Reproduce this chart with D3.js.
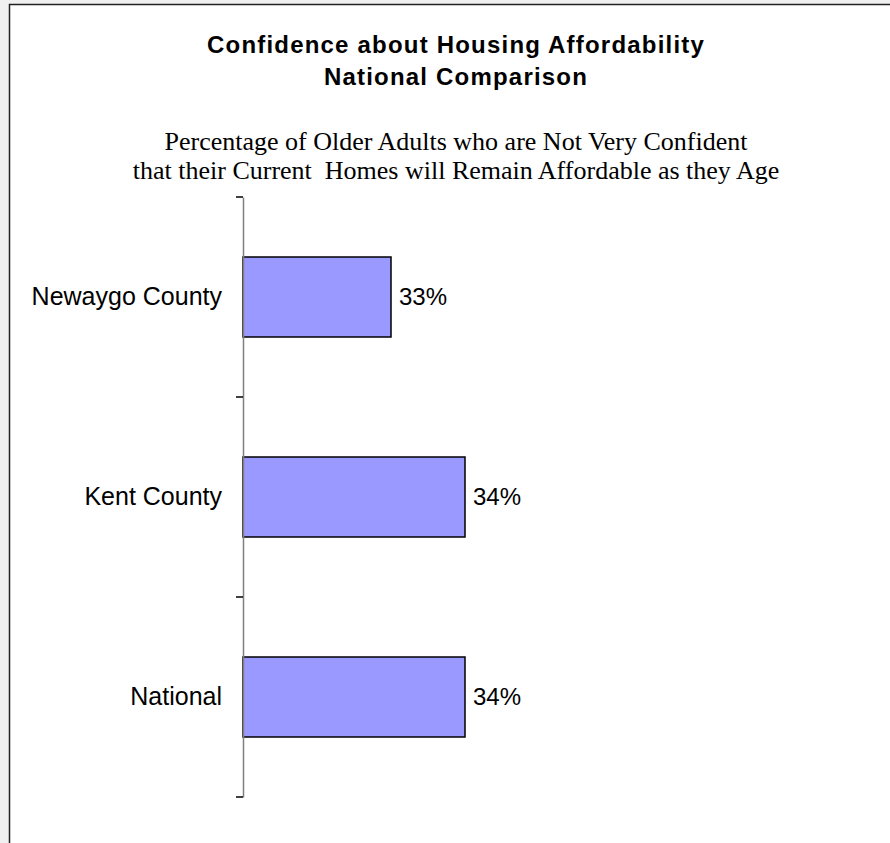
<!DOCTYPE html>
<html>
<head>
<meta charset="utf-8">
<script src="https://cdn.jsdelivr.net/npm/d3@7/dist/d3.min.js"></script>
<style>
  body { margin: 0; background: #f0f0f0; }
  svg { display: block; }
</style>
</head>
<body>
<div id="chart"></div>
<script>
const categories = ["Newaygo County", "Kent County", "National"];
const values = [33, 34, 34];
const valueLabels = ["33%", "34%", "34%"];
const titleLines = ["Confidence about Housing Affordability", "National Comparison"];
const subtitleLines = [
  "Percentage of Older Adults who are Not Very Confident",
  "that their Current\u00a0 Homes will Remain Affordable as they Age"
];

const W = 890, H = 843;
const cx = 456;

const svg = d3.select("#chart").append("svg")
  .attr("width", W)
  .attr("height", H);

// chart area with border (cropped on right/bottom)
svg.append("rect")
  .attr("x", 9.5).attr("y", 4.5)
  .attr("width", 920).attr("height", 880)
  .attr("fill", "#fff")
  .attr("stroke", "#222")
  .attr("stroke-width", 1.5);

// titles
svg.selectAll(".title")
  .data(titleLines)
  .enter().append("text")
  .attr("class", "title")
  .attr("x", cx)
  .attr("y", (d, i) => 53 + i * 32)
  .attr("text-anchor", "middle")
  .style("font-family", "'Liberation Sans', Arial, sans-serif")
  .style("font-weight", "bold")
  .style("font-size", "24px")
  .style("letter-spacing", "1.2px")
  .style("fill", "#000")
  .text(d => d);

svg.selectAll(".subtitle")
  .data(subtitleLines)
  .enter().append("text")
  .attr("class", "subtitle")
  .attr("x", cx)
  .attr("y", (d, i) => 150 + i * 29)
  .attr("text-anchor", "middle")
  .style("font-family", "'Liberation Serif', 'Times New Roman', serif")
  .style("font-size", "26px")
  .style("fill", "#000")
  .text(d => d);

// scales
const x = d3.scaleLinear()
  .domain([31, 39])
  .range([243, 835]);

const y = d3.scaleBand()
  .domain(categories)
  .range([197, 797])
  .paddingInner(0.6)
  .paddingOuter(0.3);

// bars
svg.selectAll(".bar")
  .data(categories)
  .enter().append("rect")
  .attr("class", "bar")
  .attr("x", x(31))
  .attr("y", d => y(d))
  .attr("width", (d, i) => x(values[i]) - x(31))
  .attr("height", y.bandwidth())
  .attr("fill", "#9999ff")
  .attr("stroke", "#000")
  .attr("stroke-width", 1.5);

// value labels
svg.selectAll(".value")
  .data(categories)
  .enter().append("text")
  .attr("class", "value")
  .attr("x", (d, i) => x(values[i]) + 8)
  .attr("y", d => y(d) + y.bandwidth() / 2)
  .attr("dy", "0.35em")
  .style("font-family", "'Liberation Sans', Arial, sans-serif")
  .style("font-size", "24px")
  .style("fill", "#000")
  .text((d, i) => valueLabels[i]);

// category axis
const axis = svg.append("g")
  .attr("transform", `translate(${x(31)},0)`)
  .call(d3.axisLeft(y).tickSize(0).tickSizeOuter(0).tickPadding(21));

axis.select(".domain")
  .attr("stroke", "#808080")
  .attr("stroke-width", 1.5);

axis.selectAll("text")
  .style("font-family", "'Liberation Sans', Arial, sans-serif")
  .style("font-size", "25px")
  .style("fill", "#000");

// tick marks on band boundaries
const boundaries = categories.map(c => y(c) - y.step() * y.paddingOuter());
boundaries.push(y.range()[1]);
axis.selectAll(".btick")
  .data(boundaries)
  .enter().append("line")
  .attr("class", "btick")
  .attr("x1", -7).attr("x2", 0)
  .attr("y1", d => d).attr("y2", d => d)
  .attr("stroke", "#000")
  .attr("stroke-width", 1.5);
</script>
</body>
</html>
